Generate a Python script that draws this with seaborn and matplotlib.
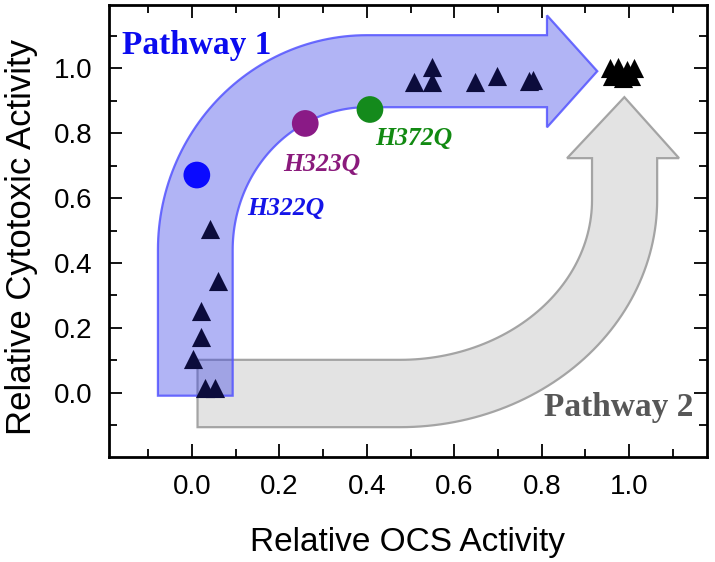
# OCS vs cytotoxic activity, two pathways

import numpy as np
import matplotlib
matplotlib.use("Agg")
import matplotlib.pyplot as plt
from matplotlib.patches import Polygon
from matplotlib.ticker import MultipleLocator
import seaborn as sns

# data
mut_names = ["H322Q", "H323Q", "H372Q"]
mut_ocs = [0.011, 0.259, 0.407]
mut_cyto = [0.671, 0.830, 0.873]
mut_colors = ["#0a0aff", "#8a1a86", "#148a1c"]

low_ocs = [0.040, 0.060, 0.021, 0.021, 0.003, 0.030, 0.053]
low_cyto = [0.504, 0.345, 0.252, 0.173, 0.104, 0.014, 0.014]

mid_ocs = [0.549, 0.508, 0.549, 0.648, 0.697, 0.770, 0.780]
mid_cyto = [1.004, 0.957, 0.957, 0.957, 0.975, 0.961, 0.963]

wt_ocs = [0.955, 0.975, 0.995, 1.010, 0.960, 0.985, 1.005, 0.970, 0.995]
wt_cyto = [1.000, 1.005, 0.995, 1.000, 0.975, 0.970, 0.975, 0.985, 0.980]

sns.set_style("ticks")
plt.rcParams['font.family'] = ['Liberation Sans', 'DejaVu Sans']
plt.rcParams['text.color'] = 'black'
plt.rcParams['axes.labelcolor'] = 'black'
plt.rcParams['xtick.color'] = 'black'
plt.rcParams['ytick.color'] = 'black'

fig = plt.figure(figsize=(7.15, 5.62), dpi=100)
ax = fig.add_axes([0.1524, 0.1868, 0.8364, 0.8043])


def arc(cx, cy, rx, ry, t0, t1, n=60):
    t = np.linspace(t0, t1, n)
    return np.column_stack([cx + rx * np.cos(t), cy + ry * np.sin(t)])


# pathway 2 arrow (grey)
p2 = np.vstack([
    [[0.0126, 0.1015], [0.476, 0.1015]],
    arc(0.476, 0.594, 0.439, 0.4925, -np.pi / 2, 0),
    [[0.915, 0.723], [0.858, 0.723], [0.989, 0.911], [1.114, 0.723], [1.064, 0.723]],
    arc(0.476, 0.594, 0.588, 0.700, 0, -np.pi / 2),
    [[0.0126, -0.106]],
])
ax.add_patch(Polygon(p2, closed=True, facecolor="#e3e3e3", edgecolor="#a4a4a4",
                     linewidth=1.6, zorder=1))

# pathway 1 arrow (blue)
p1 = np.vstack([
    [[-0.078, -0.009]],
    arc(0.400, 0.440, 0.478, 0.662, np.pi, np.pi / 2),
    [[0.812, 1.102], [0.812, 1.163], [0.927, 0.991], [0.812, 0.818], [0.812, 0.880]],
    arc(0.400, 0.440, 0.307, 0.440, np.pi / 2, np.pi),
    [[0.093, -0.009]],
])
ax.add_patch(Polygon(p1, closed=True, facecolor=(0.24, 0.27, 0.90, 0.40),
                     edgecolor=(0.33, 0.33, 1.0, 0.85), linewidth=1.6, zorder=2))

# points
sns.scatterplot(x=low_ocs + mid_ocs, y=low_cyto + mid_cyto, ax=ax, marker="^",
                s=190, color="#0c0c3c", linewidth=0, zorder=5)
sns.scatterplot(x=wt_ocs, y=wt_cyto, ax=ax, marker="^", s=190, color="black",
                linewidth=0, zorder=5)
sns.scatterplot(x=mut_ocs, y=mut_cyto, hue=mut_names, palette=mut_colors, ax=ax,
                s=370, linewidth=0, legend=False, zorder=6)

# text labels
serif = ['Liberation Serif', 'DejaVu Serif']
ax.text(-0.160, 1.071, "Pathway 1", color="#0b0bef", fontsize=24, fontweight="bold",
        family=serif, ha="left", va="center")
ax.text(0.806, -0.046, "Pathway 2", color="#575757", fontsize=24, fontweight="bold",
        family=serif, ha="left", va="center")
label_pos = [(0.126, 0.569), (0.208, 0.702), (0.419, 0.785)]
label_cols = ["#1414e8", "#8a1a7c", "#128a12"]
for name, (lx, ly), c in zip(mut_names, label_pos, label_cols):
    ax.text(lx, ly, name, color=c, fontsize=18.5, fontweight="bold", fontstyle="italic",
            family=serif, ha="left", va="center")

ax.set_xlim(-0.19, 1.178)
ax.set_ylim(-0.198, 1.195)
ax.xaxis.set_major_locator(MultipleLocator(0.2))
ax.xaxis.set_minor_locator(MultipleLocator(0.1))
ax.yaxis.set_major_locator(MultipleLocator(0.2))
ax.yaxis.set_minor_locator(MultipleLocator(0.1))
ax.set_xticks([0.0, 0.2, 0.4, 0.6, 0.8, 1.0])
ax.set_yticks([0.0, 0.2, 0.4, 0.6, 0.8, 1.0])
ax.set_xticklabels(["0.0", "0.2", "0.4", "0.6", "0.8", "1.0"])
ax.set_yticklabels(["0.0", "0.2", "0.4", "0.6", "0.8", "1.0"])

ax.tick_params(which="both", direction="in", top=True, right=True, width=1.3,
               color="black", labelcolor="black", labelsize=20, pad=12)
ax.tick_params(which="major", length=9.5)
ax.tick_params(which="minor", length=6)
for sp in ax.spines.values():
    sp.set_linewidth(2)
    sp.set_color("black")
    sp.set_visible(True)

ax.set_xlabel("Relative OCS Activity", fontsize=24, labelpad=20)
ax.set_ylabel("Relative Cytotoxic Activity", fontsize=25)
ax.yaxis.set_label_coords(-0.118, 0.487)

fig.savefig("out.png", dpi=100)
